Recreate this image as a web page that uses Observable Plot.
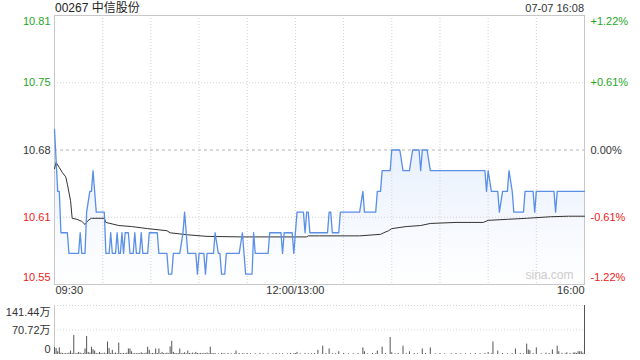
<!DOCTYPE html>
<html><head><meta charset="utf-8">
<script src="https://cdn.jsdelivr.net/npm/d3@7"></script>
<script src="https://cdn.jsdelivr.net/npm/@observablehq/plot@0.6"></script>
<style>
body{margin:0;background:#fff;}
#wrap{position:relative;width:640px;height:360px;overflow:hidden;font-family:"Liberation Sans",Arial,"Noto Sans CJK SC",sans-serif;}
#title{position:absolute;left:55px;top:1px;font-size:12px;color:#222;line-height:14px;}
#stamp{position:absolute;right:56px;top:2px;font-size:11px;color:#333;line-height:13px;}
#price{position:absolute;left:0;top:0;}
#vol{position:absolute;left:0;top:300px;}
</style></head><body>
<div id="wrap"><div id="price"></div><div id="vol"></div><div id="title">00267 中信股份</div><div id="stamp">07-07 16:08</div></div>
<script>
// ---- data ----
const priceTicks = [10.55, 10.615, 10.68, 10.745, 10.81];
const priceTickLabels = ["10.55", "10.61", "10.68", "10.75", "10.81"];
const pctTickLabels = ["-1.22%", "-0.61%", "0.00%", "+0.61%", "+1.22%"];
const timeTicks = [0, 150, 330];
const timeTickLabels = ["09:30", "12:00/13:00", "16:00"];
const gridMinutes = [30, 60, 90, 120, 150, 180, 210, 240, 270, 300];

const priceMinutes = [0,2,3,4,8,9,15,16,17,19,20,22,23,24,26,31,32,34,35,36,38,39,40,41,42,43,44,46,47,49,50,51,53,54,55,58,59,64,65,70,71,73,74,78,80,81,82,83,88,89,90,93,94,95,99,100,102,103,104,106,107,115,117,119,123,124,125,133,134,141,142,143,148,149,150,151,155,156,157,158,159,170,171,172,173,177,178,190,192,193,200,201,203,204,209,210,215,217,221,223,227,228,229,232,234,268,269,270,272,276,277,279,282,283,285,286,292,293,298,299,300,311,312,313,330];
const priceValues = [10.70,10.64,10.64,10.60,10.60,10.58,10.58,10.60,10.58,10.58,10.62,10.64,10.64,10.66,10.62,10.62,10.58,10.58,10.60,10.58,10.58,10.60,10.58,10.58,10.60,10.58,10.60,10.60,10.58,10.58,10.60,10.58,10.58,10.60,10.58,10.58,10.60,10.60,10.58,10.58,10.56,10.56,10.58,10.58,10.60,10.62,10.60,10.58,10.58,10.56,10.58,10.58,10.56,10.58,10.58,10.60,10.58,10.58,10.56,10.56,10.58,10.58,10.60,10.56,10.56,10.60,10.58,10.58,10.60,10.60,10.58,10.60,10.60,10.58,10.60,10.62,10.62,10.60,10.62,10.62,10.60,10.60,10.62,10.62,10.60,10.60,10.62,10.62,10.64,10.62,10.62,10.64,10.64,10.66,10.66,10.68,10.68,10.66,10.66,10.68,10.68,10.66,10.68,10.68,10.66,10.66,10.64,10.66,10.64,10.64,10.62,10.64,10.64,10.66,10.64,10.62,10.62,10.64,10.64,10.62,10.64,10.64,10.62,10.64,10.64];

const avgMinutes = [0,1,3,5,7,8,10,11,14,17,19,21,23,31,32,40,48,58,70,72,83,95,117,157,158,165,190,203,205,208,210,219,228,234,250,267,270,282,294,309,320,330];
const avgValues = [10.662,10.668,10.663,10.658,10.654,10.647,10.631,10.614,10.613,10.611,10.608,10.612,10.614,10.614,10.610,10.607,10.606,10.604,10.602,10.600,10.598,10.5965,10.596,10.596,10.597,10.597,10.597,10.5985,10.600,10.602,10.604,10.606,10.607,10.609,10.610,10.610,10.612,10.613,10.614,10.6155,10.616,10.616];

const volTicks = [0, 70.72, 141.44];
const volTickLabels = ["0", "70.72万", "141.44万"];
// [minute, volume (万)]
const volumes = [[0,20],[1,17],[3,19],[10,10],[12,55],[15,6],[19,16],[20,52],[21,6],[23,21],[24,14],[25,10],[28,6],[33,36],[34,17],[36,12],[40,33],[46,16],[47,16],[48,8],[54,5],[58,21],[59,12],[63,16],[65,16],[67,6],[72,22],[73,38],[74,6],[78,16],[81,5],[83,10],[88,6],[97,21],[113,10],[151,6],[164,12],[167,24],[171,16],[177,8],[192,19],[193,8],[201,10],[204,21],[209,49],[210,5],[217,24],[221,8],[229,16],[234,19],[270,6],[273,36],[276,10],[287,16],[294,30],[295,13],[296,11],[300,19],[310,13],[313,24],[314,8],[319,5],[324,5],[326,8],[327,8],[328,8],[330,141.44],
[2,8],[4,4],[5,3],[6,2],[7,3],[8,2],[9,4],[11,3],[13,2],[14,3],[16,4],[17,2],[18,3],[22,4],[26,3],[27,2],[29,3],[30,2],[31,4],[32,2],[35,3],[37,2],[38,4],[39,2],[41,3],[42,2],[43,3],[44,2],[45,4],[49,2],[50,3],[51,2],[52,3],[53,2],[55,3],[56,2],[57,4],[60,2],[61,3],[62,2],[64,3],[66,2],[68,3],[69,2],[70,4],[71,2],[75,3],[76,2],[77,3],[79,2],[80,3],[82,2],[84,3],[85,2],[86,4],[87,2],[89,3],[90,2],[91,3],[92,2],[93,3],[94,2],[95,4],[96,2],[98,3],[99,2],[100,3],[102,2],[104,3],[105,2],[106,2],[108,3],[110,2],[112,2],[115,3],[117,2],[118,2],[120,3],[122,2],[125,2],[128,3],[130,2],[133,2],[136,2],[138,3],[140,2],[142,2],[145,2],[147,3],[149,2],[150,3],[153,2],[156,3],[158,2],[160,2],[162,3],[169,3],[173,2],[175,2],[180,3],[183,2],[186,2],[189,3],[195,2],[198,3],[200,2],[206,3],[212,2],[214,3],[219,2],[224,3],[226,2],[231,3],[237,2],[240,3],[243,2],[247,2],[250,3],[253,2],[256,2],[259,2],[262,3],[265,2],[268,3],[272,2],[279,3],[282,2],[285,2],[290,3],[292,2],[298,3],[303,2],[306,4],[308,3],[316,3],[318,2],[321,3],[323,4],[325,3],[329,4]];

// ---- build ----
const priceData = priceMinutes.map((m, i) => ({m, p: priceValues[i]}));
const avgData = avgMinutes.map((m, i) => ({m, p: avgValues[i]}));
const volData = volumes.map(([m, v]) => ({m, v}));

const GREEN = "#1fa61f", RED = "#f02020", DARK = "#333";
const GRID = "#d2d2d2";
const tickColor = (i) => i < 2 ? RED : i === 2 ? DARK : GREEN;
const tickDy = (i, n) => i === 0 ? -7 : i === n - 1 ? 6 : 0;
const font = {fontFamily: '"Liberation Sans", Arial, "Noto Sans CJK SC", sans-serif', fontSize: "11px", background: "transparent"};

const priceLabelMarks = [];
priceTicks.forEach((t, i) => {
  priceLabelMarks.push(Plot.text([t], {y: d => d, frameAnchor: "left", text: () => priceTickLabels[i], textAnchor: "end", dx: -4, dy: tickDy(i, priceTicks.length), fill: tickColor(i), fontSize: 11}));
  priceLabelMarks.push(Plot.text([t], {y: d => d, frameAnchor: "right", text: () => pctTickLabels[i], textAnchor: "start", dx: 6, dy: tickDy(i, priceTicks.length), fill: tickColor(i), fontSize: 11}));
});
const anchors = ["start", "middle", "end"];
const timeLabelMarks = timeTicks.map((t, i) => Plot.text([t], {x: d => d, frameAnchor: "bottom", text: () => timeTickLabels[i], textAnchor: anchors[i], dx: i === 0 ? 1 : 0, dy: 9, fill: DARK, fontSize: 11}));

const priceSvg = Plot.plot({
  width: 640, height: 300,
  marginLeft: 54, marginRight: 56, marginTop: 15, marginBottom: 16,
  x: {domain: [0, 330], axis: null},
  y: {domain: [10.55, 10.81], axis: null},
  style: font,
  marks: [
    Plot.areaY(priceData, {x: "m", y1: 10.55, y2: "p", fill: "url(#pg)"}),
    Plot.ruleX(gridMinutes, {stroke: GRID, strokeDasharray: "1,2"}),
    Plot.ruleY([priceTicks[1], priceTicks[3]], {stroke: GRID, strokeDasharray: "1,2"}),
    Plot.ruleY([priceTicks[2]], {stroke: "#b4b4b4", strokeDasharray: "3,3"}),
    Plot.frame({stroke: "#c8c8c8"}),
    Plot.text([0], {frameAnchor: "bottom-right", text: () => "sina.com", textAnchor: "end", dx: -11, dy: -6, fill: "#ccc", fontSize: 12}),
    Plot.line(avgData, {x: "m", y: "p", stroke: "#333", strokeWidth: 1}),
    Plot.line(priceData, {x: "m", y: "p", stroke: "#5a8fe8", strokeWidth: 1.3}),
    ...priceLabelMarks,
    ...timeLabelMarks
  ]
});
priceSvg.insertAdjacentHTML("afterbegin", '<defs><linearGradient id="pg" gradientUnits="userSpaceOnUse" x1="0" y1="15" x2="0" y2="284"><stop offset="0" stop-color="#d3e2fa"/><stop offset="1" stop-color="#ffffff"/></linearGradient></defs>');
document.getElementById("price").appendChild(priceSvg);

const volLabelMarks = volTicks.map((t, i) => Plot.text([t], {y: d => d, frameAnchor: "left", text: () => volTickLabels[i], textAnchor: "end", dx: -4, dy: i === 0 ? -5 : i === 2 ? 7 : 0, fill: DARK, fontSize: 11}));

const volSvg = Plot.plot({
  width: 640, height: 60,
  marginLeft: 54, marginRight: 56, marginTop: 5, marginBottom: 6,
  x: {domain: [0, 330], axis: null},
  y: {domain: [0, 141.44], axis: null},
  style: font,
  marks: [
    Plot.ruleY([volTicks[1], volTicks[2]], {stroke: GRID, strokeDasharray: "1,2"}),
    Plot.ruleX([0], {stroke: "#c8c8c8"}),
    Plot.ruleX(volData, {x: "m", y1: 0, y2: "v", stroke: "#555", strokeWidth: 1}),
    ...volLabelMarks
  ]
});
document.getElementById("vol").appendChild(volSvg);
</script>
</body></html>
